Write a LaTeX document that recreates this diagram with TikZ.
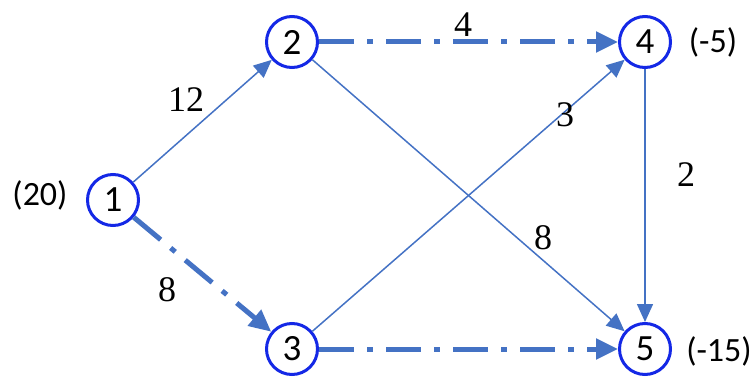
\documentclass[tikz,border=0pt]{standalone}
\usepackage{fontspec}
\setmainfont{Liberation Serif}
\newfontfamily\calfont{Carlito}
\usetikzlibrary{arrows.meta}
\definecolor{edgeblue}{RGB}{68,114,196}
\definecolor{ringblue}{RGB}{20,40,230}
\begin{document}
\begin{tikzpicture}[x=1pt,y=-1pt,
  vtx/.style={circle,draw=ringblue,fill=white,line width=3pt,minimum size=51pt,inner sep=0pt,font=\calfont\fontsize{37}{37}\selectfont},
  arc/.style={draw=edgeblue,line width=1.5pt,-{Triangle[length=18pt,width=16pt]}},
  flow/.style={draw=edgeblue,line width=5pt,dash pattern=on 35pt off 13pt on 6pt off 13pt,-{Triangle[length=22pt,width=20pt]}},
  wt/.style={font=\fontsize{36}{36}\selectfont},
  supply/.style={font=\calfont\fontsize{34}{34}\selectfont}]
\useasboundingbox (0,0) rectangle (751,377);
\node[vtx] (n1) at (113,200) {1};
\node[vtx] (n2) at (292,42) {2};
\node[vtx] (n3) at (292,349) {3};
\node[vtx] (n4) at (645,42) {4};
\node[vtx] (n5) at (645,349) {5};
\node[supply] (s1) at (40,195) {(20)};
\node[supply] (s4) at (713,42) {(-5)};
\node[supply] (s5) at (719,351) {(-15)};
\draw[arc] (n1) -- (n2);
\draw[flow] (n1) -- (n3);
\draw[flow] (n2) -- (n4);
\draw[arc] (n2) -- (n5);
\draw[arc] (n3) -- (n4);
\draw[flow] (n3) -- (n5);
\draw[arc] (n4) -- (n5);
\node[wt] (w12) at (186,100) {12};
\node[wt] (w24) at (463,25) {4};
\node[wt] (w34) at (565,115) {3};
\node[wt] (w45) at (686,175) {2};
\node[wt] (w25) at (543,238) {8};
\node[wt] (w13) at (167,290) {8};
\end{tikzpicture}
\end{document}
